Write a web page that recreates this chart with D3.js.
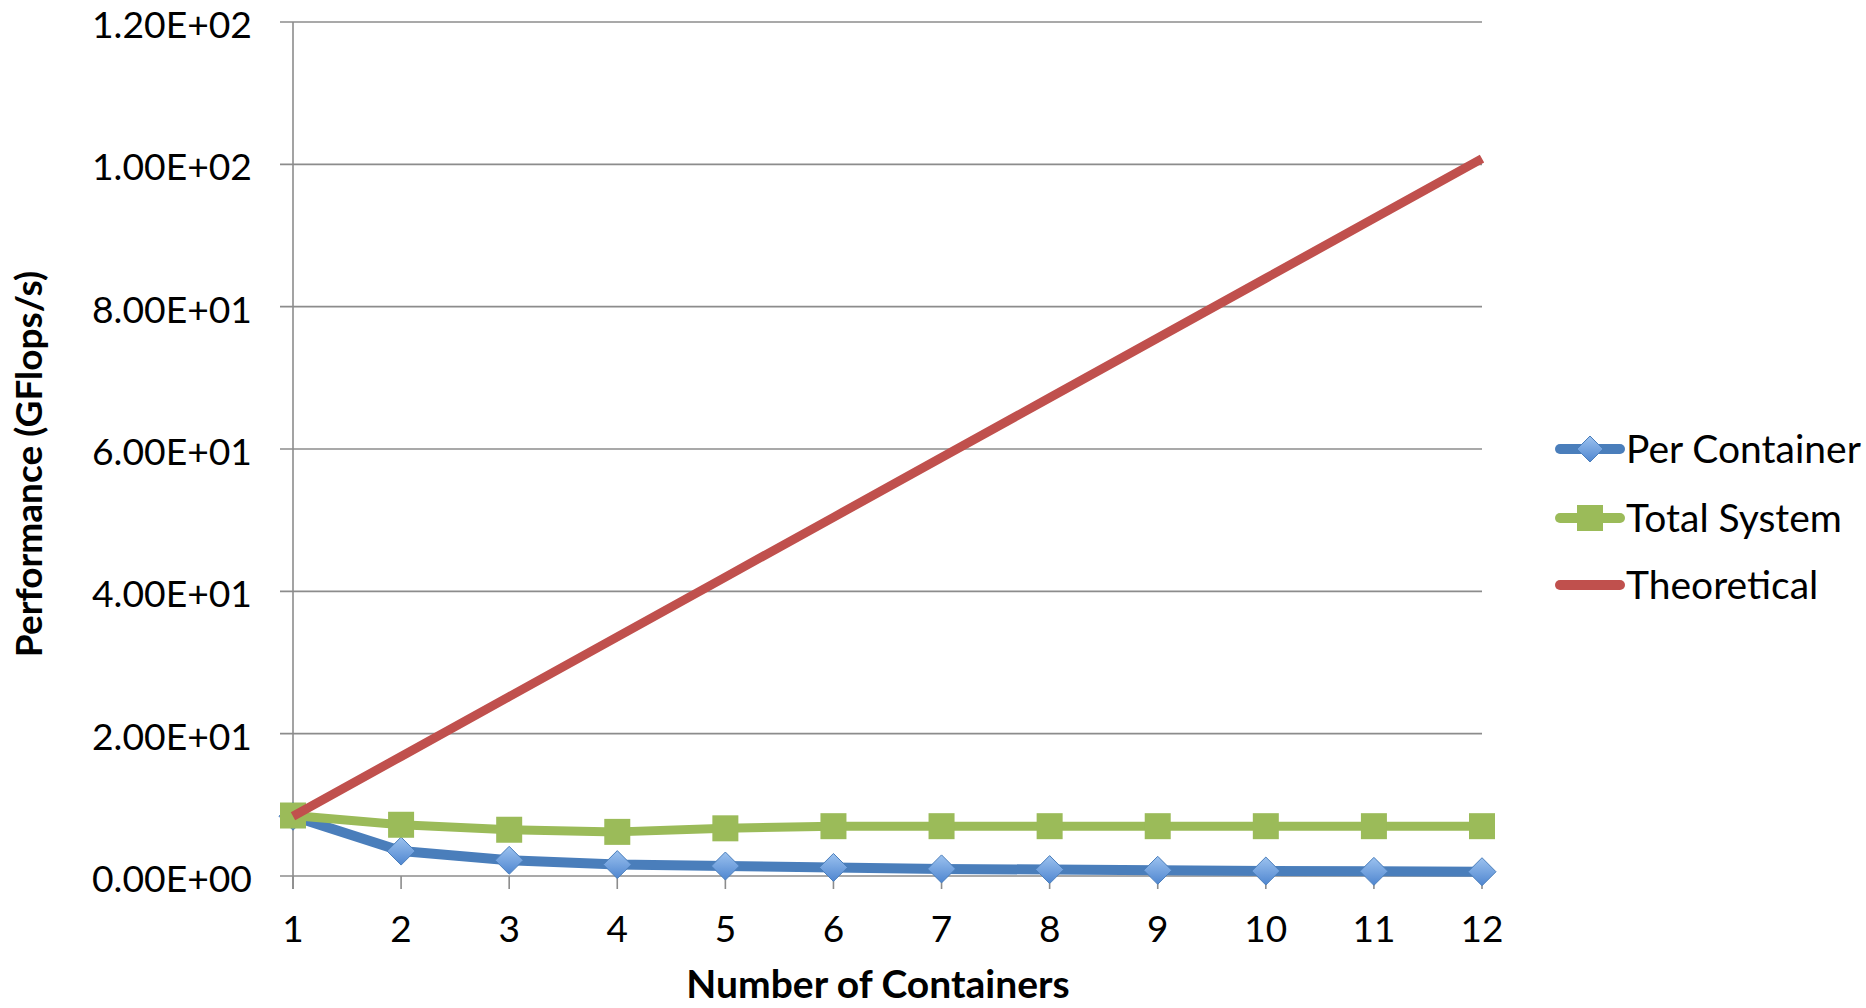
<!DOCTYPE html>
<html><head><meta charset="utf-8">
<script src="https://cdn.jsdelivr.net/npm/d3@7/dist/d3.min.js"></script>
<style>
html,body{margin:0;padding:0;background:#fff;}
text{font-family:Lato,"Open Sans",sans-serif;fill:#000;}
</style></head>
<body>
<svg id="chart" width="1866" height="1008"></svg>
<script>
const containers = [1,2,3,4,5,6,7,8,9,10,11,12];
const perContainer = [8.4,3.5,2.2,1.6,1.4,1.2,1.0,0.9,0.8,0.7,0.65,0.6];
const totalSystem = [8.5,7.2,6.5,6.2,6.7,7.0,7.0,7.0,7.0,7.0,7.0,7.0];
const theoretical = [8.4,16.8,25.2,33.6,42.0,50.4,58.8,67.2,75.6,84.0,92.4,100.8];
const yTicks = [0,20,40,60,80,100,120];
const yTickLabels = ["0.00E+00","2.00E+01","4.00E+01","6.00E+01","8.00E+01","1.00E+02","1.20E+02"];
const seriesNames = ["Per Container","Total System","Theoretical"];

const svg = d3.select("#chart");
const L = 293, R = 1482, T = 22, B = 876;
const x = d3.scaleLinear().domain([1,12]).range([L,R]);
const y = d3.scaleLinear().domain([0,120]).range([B,T]);
const fs = 36;

const grid = svg.append("g");
grid.selectAll("line").data(yTicks).join("line")
  .attr("x1", L-13).attr("x2", R)
  .attr("y1", d=>y(d)).attr("y2", d=>y(d))
  .attr("stroke","#8c8c8c").attr("stroke-width",1.6);
svg.append("line").attr("x1",L).attr("x2",L).attr("y1",T).attr("y2",B+13)
  .attr("stroke","#8c8c8c").attr("stroke-width",1.6);
svg.append("g").selectAll("line").data(containers).join("line")
  .attr("x1",d=>x(d)).attr("x2",d=>x(d)).attr("y1",B).attr("y2",B+13)
  .attr("stroke","#8c8c8c").attr("stroke-width",1.6);

svg.append("g").selectAll("text").data(yTicks).join("text")
  .attr("x", 252).attr("y", d=>y(d)+3).attr("dy","0.36em")
  .attr("text-anchor","end").attr("font-size",fs).attr("textLength",160).attr("lengthAdjust","spacingAndGlyphs")
  .text((d,i)=>yTickLabels[i]);
svg.append("g").selectAll("text").data(containers).join("text")
  .attr("x", d=>x(d)).attr("y", 929).attr("dy","0.36em")
  .attr("text-anchor","middle").attr("font-size",37)
  .text(d=>d);

svg.append("text").attr("x",878).attr("y",984).attr("dy","0.36em")
  .attr("text-anchor","middle").attr("font-size",39).attr("font-weight","bold")
  .text("Number of Containers");
svg.append("text").attr("transform","translate(29,464) rotate(-90)").attr("dy","0.36em")
  .attr("text-anchor","middle").attr("font-size",37).attr("font-weight","bold")
  .text("Performance (GFlops/s)");

const line = d3.line().x((d,i)=>x(containers[i])).y(d=>y(d));

const defs = svg.append("defs");
const gb = defs.append("linearGradient").attr("id","gBlue").attr("x1",0).attr("y1",0).attr("x2",0).attr("y2",1);
gb.append("stop").attr("offset","0%").attr("stop-color","#9cc2ef");
gb.append("stop").attr("offset","100%").attr("stop-color","#4f86d0");

function diamond(g, cx, cy, r){
  g.append("path").attr("d",`M${cx},${cy-r}L${cx+r},${cy}L${cx},${cy+r}L${cx-r},${cy}Z`)
   .attr("fill","url(#gBlue)").attr("stroke","#4a7ebb").attr("stroke-width",1);
}

const gPC = svg.append("g");
gPC.append("path").datum(perContainer).attr("d",line).attr("fill","none")
  .attr("stroke","#4a7ebb").attr("stroke-width",10).attr("stroke-linejoin","round");
perContainer.forEach((v,i)=>diamond(gPC, x(containers[i]), y(v), 14));

const gTS = svg.append("g");
gTS.append("path").datum(totalSystem).attr("d",line).attr("fill","none")
  .attr("stroke","#9bbb59").attr("stroke-width",9).attr("stroke-linejoin","round");
gTS.selectAll("rect").data(totalSystem).join("rect")
  .attr("x",(d,i)=>x(containers[i])-13).attr("y",d=>y(d)-13)
  .attr("width",26).attr("height",26).attr("fill","#9bbb59");

svg.append("path").datum(theoretical).attr("d",line).attr("fill","none")
  .attr("stroke","#c0504d").attr("stroke-width",9);

const legY = [449,518,585];
const lg = svg.append("g");
const colors = ["#4a7ebb","#9bbb59","#c0504d"];
seriesNames.forEach((n,i)=>{
  lg.append("line").attr("x1",1560).attr("x2",1620).attr("y1",legY[i]).attr("y2",legY[i])
    .attr("stroke",colors[i]).attr("stroke-width",10).attr("stroke-linecap","round");
  if(i===0) diamond(lg,1590,legY[i],13);
  if(i===1) lg.append("rect").attr("x",1577).attr("y",legY[i]-13).attr("width",26).attr("height",26).attr("fill","#9bbb59");
  lg.append("text").attr("x",1626).attr("y",legY[i]).attr("dy","0.36em")
    .attr("font-size",39).text(n);
});
</script>
</body></html>
